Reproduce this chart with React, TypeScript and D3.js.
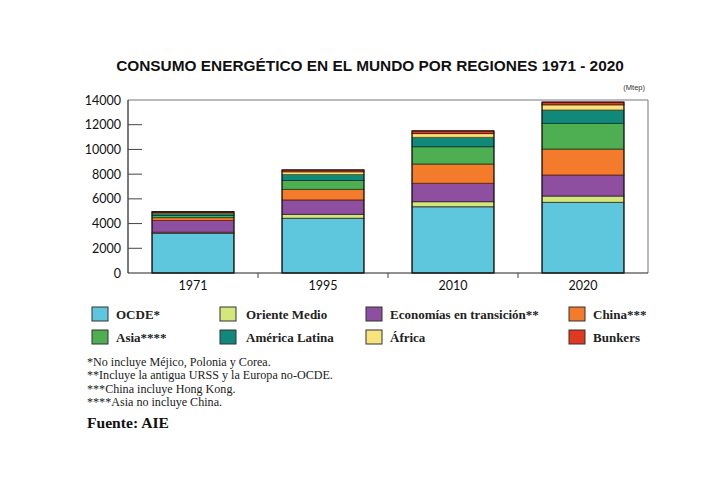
import React from "react";
import * as d3 from "d3";

const years = ["1971", "1995", "2010", "2020"];
const seriesNames = ["OCDE*", "Oriente Medio", "Economías en transición**", "China***", "Asia****", "América Latina", "África", "Bunkers"];
const ocde = [3200, 4430, 5360, 5720];
const orienteMedio = [100, 320, 410, 510];
const economiasTransicion = [950, 1160, 1490, 1700];
const china = [230, 860, 1560, 2100];
const asia = [170, 720, 1400, 2080];
const americaLatina = [170, 480, 760, 1080];
const africa = [80, 220, 300, 420];
const bunkers = [60, 150, 220, 220];
const yTicks = [0, 2000, 4000, 6000, 8000, 10000, 12000, 14000];
const footnotes = [
  "*No incluye Méjico, Polonia y Corea.",
  "**Incluye la antigua URSS y la Europa no-OCDE.",
  "***China incluye Hong Kong.",
  "****Asia no incluye China.",
];
const sourceText = "Fuente: AIE";
const titleText = "CONSUMO ENERGÉTICO EN EL MUNDO POR REGIONES 1971 - 2020";
const unitText = "(Mtep)";

const colors = ["#5ec6dd", "#d3e77a", "#8f4fa1", "#f47a2c", "#4dae52", "#10897b", "#f8e37c", "#e0391f"];
const barStrokes = ["#222", "#3d3d2a", "#3a2440", "#6b2a10", "#1f4a22", "#0b3d36", "#6b5a20", "#5a1a0e"];

export default function App() {
  const W = 720, H = 480;
  const m = { left: 128, right: 648, top: 100, bottom: 273 };
  const seriesValues = [ocde, orienteMedio, economiasTransicion, china, asia, americaLatina, africa, bunkers];
  const rows = years.map((y, i) => {
    const r: any = { year: y };
    seriesNames.forEach((s, j) => (r[s] = seriesValues[j][i]));
    return r;
  });
  const stack = d3.stack<any>().keys(seriesNames)(rows);
  const x = d3.scaleBand().domain(years).range([m.left, m.right]).paddingInner(0.37).paddingOuter(0.185);
  const xb = d3.scaleBand().domain(years).range([m.left, m.right]);
  const y = d3.scaleLinear().domain([0, 14000]).range([m.bottom, m.top]);

  const legendCols = [92, 220, 366, 569];
  const legendRows = [307, 330];

  return (
    <svg width={W} height={H} style={{ position: "absolute", left: 0, top: 0, background: "#fff" }}>
      <rect x={0} y={0} width={W} height={H} fill="#fff" />
      <text x={370} y={71} textAnchor="middle" fontFamily="Liberation Sans, Arial, sans-serif" fontWeight="bold" fontSize={15.4} fill="#111">
        {titleText}
      </text>
      <text x={645} y={90} textAnchor="end" fontFamily="Liberation Sans, Arial, sans-serif" fontSize={7.5} fill="#333">
        {unitText}
      </text>

      {/* frame */}
      <line x1={m.left} x2={m.right} y1={m.top} y2={m.top} stroke="#777" strokeWidth={1} />
      <line x1={m.right} x2={m.right} y1={m.top} y2={m.bottom} stroke="#777" strokeWidth={1} />

      {/* bars */}
      {stack.map((layer, li) =>
        layer.map((d, i) => (
          <rect
            key={li + "-" + i}
            x={x(years[i])!}
            y={y(d[1])}
            width={x.bandwidth()}
            height={Math.max(0, y(d[0]) - y(d[1]))}
            fill={colors[li]}
            stroke={barStrokes[li]}
            strokeWidth={0.9}
          />
        ))
      )}
      {years.map((yr, i) => {
        const top = stack[stack.length - 1][i][1];
        return (
          <rect key={"o" + yr} x={x(yr)!} y={y(top)} width={x.bandwidth()} height={y(0) - y(top)} fill="none" stroke="#111" strokeWidth={1} />
        );
      })}

      {/* y axis */}
      <line x1={m.left} x2={m.left} y1={m.top} y2={m.bottom} stroke="#222" strokeWidth={1.2} />
      {yTicks.map((t) => (
        <g key={t}>
          {t > 0 && t < 14000 && <line x1={m.left} x2={m.left + 14} y1={y(t)} y2={y(t)} stroke="#444" strokeWidth={1} />}
          <text x={121} y={y(t) + 4.5} textAnchor="end" fontFamily="Lato, Open Sans, sans-serif" fontSize={12.5} fill="#111">
            {t}
          </text>
        </g>
      ))}

      {/* x axis */}
      <line x1={m.left} x2={m.right} y1={m.bottom} y2={m.bottom} stroke="#222" strokeWidth={1.2} />
      {years.slice(1).map((yr) => (
        <line key={"t" + yr} x1={xb(yr)!} x2={xb(yr)!} y1={m.bottom} y2={m.bottom + 5} stroke="#444" strokeWidth={1} />
      ))}
      {years.map((yr) => (
        <text key={"l" + yr} x={xb(yr)! + xb.bandwidth() / 2} y={m.bottom + 17} textAnchor="middle" fontFamily="Lato, Open Sans, sans-serif" fontSize={12.5} fill="#111">
          {yr}
        </text>
      ))}

      {/* legend */}
      {seriesNames.map((s, i) => {
        const col = i % 4;
        const row = Math.floor(i / 4);
        const lx = legendCols[col];
        const ly = legendRows[row];
        return (
          <g key={"lg" + s}>
            <rect x={lx} y={ly} width={16} height={14} fill={colors[i]} stroke="#333" strokeWidth={1} />
            <text x={lx + (col === 0 ? 24 : col === 1 ? 26 : 24)} y={ly + 12} fontFamily="Liberation Serif, Times New Roman, serif" fontWeight="bold" fontSize={13} fill="#222">
              {s}
            </text>
          </g>
        );
      })}

      {/* footnotes */}
      {footnotes.map((f, i) => (
        <text key={"f" + i} x={87} y={366 + i * 13.4} fontFamily="Liberation Serif, Times New Roman, serif" fontSize={12.1} fill="#222">
          {f}
        </text>
      ))}
      <text x={87} y={428} fontFamily="Liberation Serif, Times New Roman, serif" fontWeight="bold" fontSize={15.6} fill="#111">
        {sourceText}
      </text>
    </svg>
  );
}
